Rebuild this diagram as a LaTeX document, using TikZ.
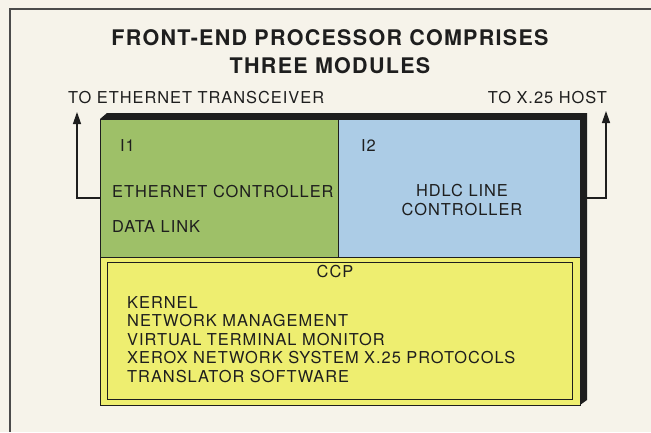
\documentclass[tikz,border=0pt]{standalone}
\usepackage{fontspec}
\setmainfont{TeX Gyre Heros}[LetterSpace=6]
\usepackage{tikz}
\usetikzlibrary{arrows.meta,positioning,calc}
\definecolor{papercolor}{RGB}{246,243,234}
\definecolor{inkcolor}{RGB}{30,30,30}
\definecolor{ethcolor}{RGB}{158,192,104}
\definecolor{hdlccolor}{RGB}{172,204,230}
\definecolor{ccpcolor}{RGB}{238,238,112}

\begin{document}
\begin{tikzpicture}[
    x=1pt, y=-1pt,
    modbox/.style={rectangle, draw=inkcolor, line width=1pt, inner sep=0pt, outer sep=0pt, anchor=north west},
    label/.style={font=\fontsize{16.4}{18.5}\selectfont, text=inkcolor, inner sep=0pt, align=left},
    titletext/.style={font=\fontsize{21.5}{28}\selectfont\bfseries, text=inkcolor, inner sep=0pt, align=center},
    arrow/.style={-{Triangle[length=12pt,width=8pt]}, line width=1.3pt, draw=inkcolor}
]

% Page and frame
\fill[papercolor] (0,0) rectangle (651,432);
\useasboundingbox (0,0) rectangle (651,432);
\draw[line width=1.5pt, draw=inkcolor!80] (651,9) -- (10,9) -- (10,432);

% Title
\node[titletext] (title) at (330,52) {FRONT-END PROCESSOR COMPRISES\\THREE MODULES};

% Depth of the block
\fill[inkcolor] (100,119) -- (107,113) -- (587,113) -- (587,400) -- (580,405) -- (580,119) -- cycle;

% Modules
\node[modbox, fill=ethcolor, minimum width=238, minimum height=138] (eth) at (100,119) {};
\node[modbox, fill=hdlccolor, minimum width=242, minimum height=138] (hdlc) at (338,119) {};
\node[modbox, fill=ccpcolor, minimum width=480, minimum height=148] (ccp) at (100,257) {};
\node[modbox, draw=inkcolor, minimum width=465, minimum height=137] (ccpin) at (107,262) {};

% Module texts
\node[label, anchor=west] (ione) at (120,146) {I1};
\node[label, anchor=west] (ethctl) at (112,191.5) {ETHERNET CONTROLLER};
\node[label, anchor=west] (datalink) at (112,227) {DATA LINK};
\node[label, anchor=west] (itwo) at (361,146) {I2};
\node[label, align=center] (hdlcctl) at (462,200) {HDLC LINE\\CONTROLLER};
\node[label] (ccpname) at (335,272) {CCP};
\node[label, anchor=north west] (ccplist) at (127,296) {KERNEL\\NETWORK MANAGEMENT\\VIRTUAL TERMINAL MONITOR\\XEROX NETWORK SYSTEM X.25 PROTOCOLS\\TRANSLATOR SOFTWARE};

% Outside connections
\node[label, anchor=west] (transceiver) at (68,97.5) {TO ETHERNET TRANSCEIVER};
\node[label, anchor=east] (host) at (607,97.5) {TO X.25 HOST};
\coordinate (ethtip) at (77,112);
\coordinate (hosttip) at (606,111);
\draw[arrow] ([yshift=-10pt]eth.west) -| (ethtip);
\draw[arrow] ([xshift=7pt,yshift=-10pt]hdlc.east) -| (hosttip);

\end{tikzpicture}
\end{document}
